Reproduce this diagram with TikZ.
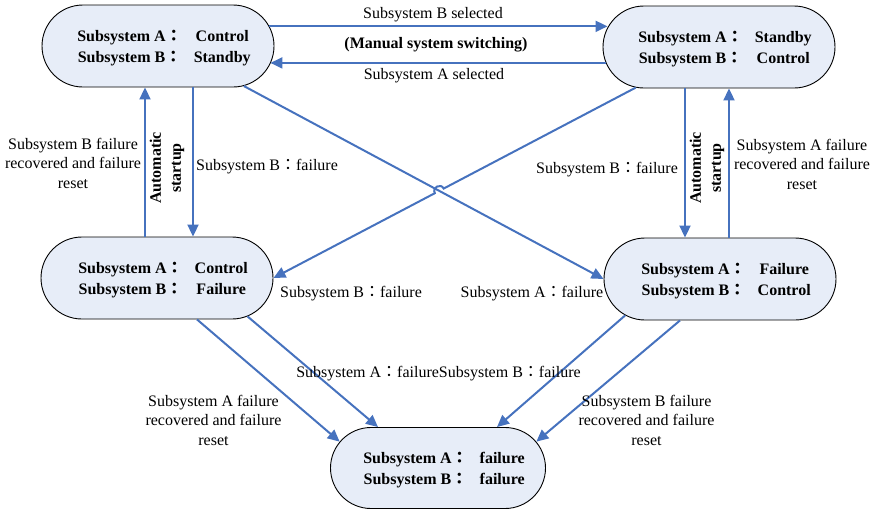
\documentclass[tikz,border=0pt]{standalone}
\usepackage{fontspec}
\setmainfont{Liberation Serif}
\newfontfamily\cjk{Noto Sans CJK TC}
\usetikzlibrary{shapes.misc,arrows.meta,calc,intersections}
\newcommand{\fwcolon}{{\cjk ：}}
\definecolor{statefill}{RGB}{231,237,248}
\definecolor{linkblue}{RGB}{70,114,190}

\tikzset{
  state/.style={rounded rectangle, draw=black, line width=0.9pt, fill=statefill,
    minimum width=232pt, minimum height=82pt, inner sep=0pt,
    font=\bfseries\fontsize{16}{21}\selectfont},
  link/.style={draw=linkblue, line width=2pt, -{Triangle[length=12pt,width=11pt]}},
  lbl/.style={font=\fontsize{16}{19.5}\selectfont, align=center, inner sep=0pt},
  blbl/.style={font=\bfseries\fontsize{16}{19.5}\selectfont, align=center, inner sep=0pt},
  rot/.style={font=\bfseries\fontsize{16}{20}\selectfont, align=center, rotate=90, inner sep=0pt},
}
\newcommand{\pair}[4]{\hspace*{12pt}\raisebox{-2pt}[\height][\depth]{\begin{tabular}{@{}c@{\hspace{12pt}}c@{}}#1\fwcolon & #2\\ #3\fwcolon & #4\end{tabular}}}

\begin{document}
\begin{tikzpicture}[x=1pt,y=-1pt]
  \useasboundingbox (0,0) rectangle (875,512);

  % states
  \node[state] (TL) at (158,46)  {\pair{Subsystem A}{Control}{Subsystem B}{Standby}};
  \node[state] (TR) at (719,47)  {\pair{Subsystem A}{Standby}{Subsystem B}{Control}};
  \node[state] (ML) at (157,278) {\pair{Subsystem A}{Control}{Subsystem B}{Failure}};
  \node[state] (MR) at (720,279) {\pair{Subsystem A}{Failure}{Subsystem B}{Control}};
  \node[state, minimum width=215pt, minimum height=81pt] (BT) at (438,468)
    {\pair{Subsystem A}{failure}{Subsystem B}{failure}};

  % manual switching between the two normal states
  \draw[link] (TL.10) -- (TL.10 -| TR.170);
  \draw[link] (TR.188) -- (TR.188 -| TL.-9);
  \node[lbl]  at (433,15) {Subsystem B selected};
  \node[blbl] at (436,45) {(Manual system switching)};
  \node[lbl]  at (434,76) {Subsystem A selected};

  % end points of the vertical links
  \coordinate (tlA) at ($(TL.south)+(35,0)$);
  \coordinate (tlB) at ($(TL.south)+(-13,0)$);
  \coordinate (trA) at ($(TR.south)+(-34,0)$);
  \coordinate (trB) at ($(TR.south)+(10,0)$);

  % left column: A control
  \draw[link] (tlA) -- (tlA |- ML.north);
  \draw[link] (tlB |- ML.north) -- (tlB);
  \node[lbl] at (267,167) {Subsystem B\fwcolon failure};
  \node[lbl] at (73,163) {Subsystem B failure\\recovered and failure\\reset};
  \node[rot] at (167,168) {Automatic\\startup};

  % right column: B control
  \draw[link] (trA) -- (trA |- MR.north);
  \draw[link] (trB |- MR.north) -- (trB);
  \node[lbl] at (607,170) {Subsystem B\fwcolon failure};
  \node[lbl] at (802,164) {Subsystem A failure\\recovered and failure\\reset};
  \node[rot] at (707,168) {Automatic\\startup};

  % crossing diagonals, the second one hopping over the first
  \path[name path=dA] (TL.-25) -- (MR.west);
  \path[name path=dB] (TR.206) -- (ML.east);
  \path[name intersections={of=dA and dB, by=X}];
  \coordinate (h1) at ($(X)!5pt!(TR.206)$);
  \coordinate (h2) at ($(X)!5pt!(ML.east)$);
  \draw[link] (TL.-25) -- (MR.west);
  \draw[link] (TR.206) -- (h1)
    .. controls ($(h1)!6.5pt!-90:(X)$) and ($(h2)!6.5pt!90:(X)$) .. (h2) -- (ML.east);
  \node[lbl] at (351,294) {Subsystem B\fwcolon failure};
  \node[lbl] at (532,294) {Subsystem A\fwcolon failure};

  % into the double-failure state
  \coordinate (mlS) at ($(ML.south)+(40,0)$);
  \coordinate (mrS) at ($(MR.south)+(-40,0)$);
  \coordinate (btL) at ($(BT.north)+(-60,0)$);
  \coordinate (btR) at ($(BT.north)+(59,0)$);
  \draw[link] (mlS) -- (BT.165);
  \draw[link] (ML.-23) -- (btL);
  \draw[link] (MR.201) -- (btR);
  \draw[link] (mrS) -- (BT.15);
  \node[lbl] at (438.5,374) {Subsystem A\fwcolon failureSubsystem B\fwcolon failure};
  \node[lbl] at (213.5,420) {Subsystem A failure\\recovered and failure\\reset};
  \node[lbl] at (646.5,420) {Subsystem B failure\\recovered and failure\\reset};
\end{tikzpicture}
\end{document}
